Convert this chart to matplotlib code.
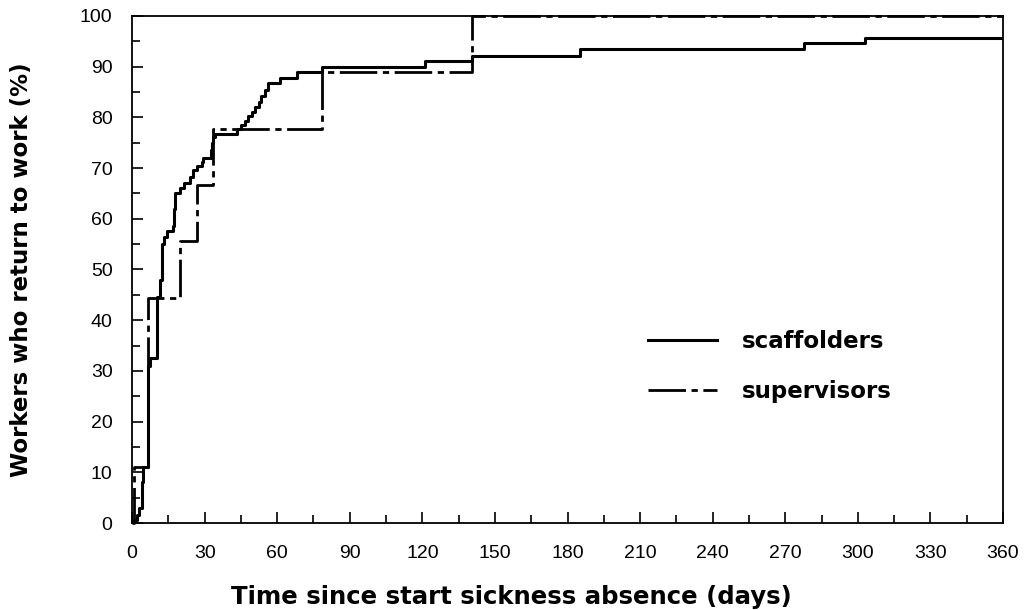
import matplotlib
matplotlib.use("Agg")
import matplotlib.pyplot as plt
from matplotlib.ticker import MultipleLocator

# data (days, % returned)
scaff_days = [0, 1, 2, 3, 4, 4.6, 6.5, 7.5, 10.3, 11.5, 12.5, 13.3, 14.5, 17, 17.5,
              17.9, 19.8, 21.5, 24, 25.3, 27, 28.8, 29.5, 32.5, 33, 33.6, 34.3,
              43.3, 45, 46.7, 48, 49.5, 51, 52.5, 53.5, 55, 56.3, 61.2, 68, 78.4,
              121, 140.5, 185, 277.7, 303, 360]
scaff_pct = [0, 0.5, 1.5, 3, 8, 11.1, 31, 32.5, 44.6, 48, 55, 56.5, 57.5, 58.5, 62,
             65, 66, 67, 68.3, 69.6, 70.5, 71.3, 72, 73.5, 75, 76.2, 76.7,
             77.8, 78.5, 79.3, 80.2, 81, 82, 83, 84.3, 85.5, 86.7, 87.8, 88.9, 90,
             91.1, 92.1, 93.5, 94.6, 95.6, 95.6]

sup_days = [0, 1, 6.7, 19.8, 26.7, 33.6, 78.4, 140.6, 360]
sup_pct = [0, 11.1, 44.4, 55.6, 66.7, 77.8, 88.9, 100, 100]

plt.rcParams['lines.scale_dashes'] = False

fig = plt.figure(figsize=(10.26, 6.10), dpi=100)
ax = fig.add_axes([0.1287, 0.1426, 0.8489, 0.8312])

ax.step(scaff_days, scaff_pct, where='post', color='black', lw=2.2,
        label='scaffolders')
ax.step(sup_days, sup_pct, where='post', color='black', lw=2.0,
        dashes=(27, 4, 4.5, 4), label='supervisors', clip_on=False)

ax.set_xlim(0, 360)
ax.set_ylim(0, 100)
ax.xaxis.set_major_locator(MultipleLocator(30))
ax.xaxis.set_minor_locator(MultipleLocator(15))
ax.yaxis.set_major_locator(MultipleLocator(10))
ax.yaxis.set_minor_locator(MultipleLocator(5))
ax.tick_params(which='both', direction='in', width=1.2, color='black')
ax.tick_params(which='major', length=8)
ax.tick_params(which='minor', length=5.5)
ax.tick_params(axis='x', pad=16)
ax.tick_params(axis='y', pad=14)
for lab in ax.get_xticklabels() + ax.get_yticklabels():
    lab.set_fontfamily('Liberation Sans')
    lab.set_fontsize(14)
for s in ax.spines.values():
    s.set_linewidth(1.3)

bold = {'family': 'DejaVu Sans', 'weight': 'heavy', 'size': 16.5}
ax.set_xlabel('Time since start sickness absence (days)', fontdict=bold,
              fontsize=17.6)
ax.set_ylabel('Workers who return to work (%)', fontdict=bold)
ax.xaxis.set_label_coords(0.436, -0.122)
ax.yaxis.set_label_coords(-0.114, 0.5)

leg = ax.legend(loc='center left', bbox_to_anchor=(0.592, 0.308), frameon=False,
                borderpad=0, borderaxespad=0, handlelength=3.03,
                handletextpad=1.09, labelspacing=1.18, prop=bold)

fig.savefig('out.png', dpi=100)
